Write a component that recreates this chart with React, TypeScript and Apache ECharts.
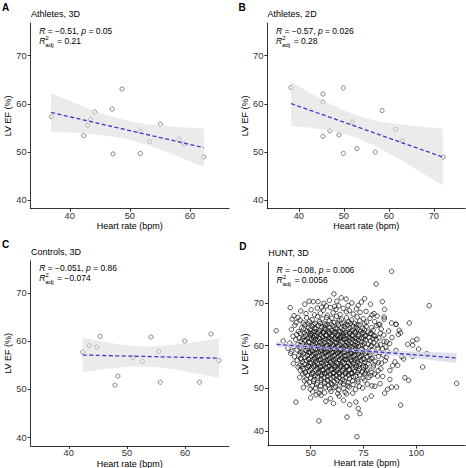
import React, { useEffect, useRef } from "react";
import * as echarts from "echarts";

// ---------- Panel A: Athletes, 3D ----------
const aHR = [36.97, 42.31, 42.98, 43.47, 44.13, 47.05, 47.2, 48.7, 51.74, 55.1, 53.3, 51.74, 58.2, 59.0, 62.3];
const aEF = [57.34, 53.4, 55.54, 56.8, 58.3, 58.9, 49.6, 63.07, 54.3, 55.75, 52.15, 49.7, 52.6, 51.7, 49.0];
const aBandX = [36.9, 40, 43, 46, 49.6, 53, 56, 59, 62.3];
const aFit = [58.2, 57.31, 56.45, 55.59, 54.56, 53.58, 52.72, 51.86, 50.91];
const aUpper = [62.2, 60.58, 59.09, 57.74, 56.47, 55.71, 55.32, 55.09, 54.91];
const aLower = [54.2, 54.04, 53.81, 53.44, 52.65, 51.45, 50.12, 48.63, 46.91];

// ---------- Panel B: Athletes, 2D ----------
const bHR = [38.28, 45.36, 45.36, 49.9, 51.9, 46.9, 45.36, 48.93, 49.9, 52.9, 58.5, 61.5, 63.0, 57.0, 72.05];
const bEF = [63.36, 62.03, 60.37, 63.3, 56.2, 54.4, 53.26, 53.53, 49.73, 50.7, 58.6, 54.7, 52.3, 50.0, 48.96];
const bBandX = [38.3, 42, 46, 50, 52.5, 56, 60, 64, 68, 72];
const bFit = [60.04, 58.82, 57.51, 56.19, 55.37, 54.22, 52.9, 51.58, 50.27, 48.95];
const bUpper = [64.63, 62.56, 60.46, 58.62, 57.7, 56.75, 56.04, 55.56, 55.2, 54.89];
const bLower = [55.45, 55.08, 54.56, 53.76, 53.04, 51.69, 49.76, 47.6, 45.34, 43.01];

// ---------- Panel C: Controls, 3D ----------
const cHR = [42.41, 43.5, 44.83, 45.4, 48.45, 47.93, 51.03, 52.64, 54.14, 55.46, 55.74, 59.95, 62.47, 64.43, 65.8];
const cEF = [57.77, 59.1, 58.8, 61.04, 52.77, 50.9, 56.6, 55.83, 60.9, 57.9, 51.5, 60.06, 51.5, 61.52, 56.04];
const cBandX = [42.4, 45, 48, 51, 53, 55, 58, 61, 63.5, 65.8];
const cFit = [57.15, 57.08, 56.99, 56.91, 56.86, 56.8, 56.72, 56.63, 56.56, 56.5];
const cUpper = [60.75, 60.11, 59.48, 59.05, 58.93, 58.95, 59.22, 59.69, 60.16, 60.64];
const cLower = [53.55, 54.05, 54.5, 54.77, 54.79, 54.65, 54.22, 53.57, 52.96, 52.36];

// ---------- Panel D: HUNT, 3D ----------
const dBandX = [33.9, 45, 55, 62, 70, 80, 90, 100, 110, 119];
const dFit = [60.3, 59.89, 59.51, 59.25, 58.95, 58.58, 58.21, 57.83, 57.46, 57.13];
const dUpper = [60.9, 60.29, 59.75, 59.45, 59.21, 58.99, 58.81, 58.62, 58.45, 58.3];
const dLower = [59.7, 59.49, 59.27, 59.05, 58.69, 58.17, 57.61, 57.04, 56.47, 55.96];
const huntPoints: [number, number][] = [
  [61.0,72.1],[49.3,70.4],[51.2,70.3],[53.5,70.3],[56.3,69.9],[57.4,69.3],[63.3,69.3],[62.4,70.4],[72.5,69.4],[74.0,70.2],[47.2,69.7],[40.3,68.9],[66.8,70.9],[58.9,70.6],[64.5,71.2],[69.5,70.0],[75.5,71.0],[78.3,69.7],
  [88.3,77.4],[81.0,74.4],[106.1,69.35],[83.9,70.3],[85.0,68.5],[96.7,65.3],[119.1,51.2],[92.6,46.1],[103.0,55.0],[33.7,63.5],[37.0,61.1],
  [42.1,67.0],[44.0,66.6],[45.3,68.1],[47.8,67.5],[50.2,68.4],[51.8,67.2],[53.1,68.8],[54.6,67.6],[56.0,68.3],[57.9,67.1],[59.3,68.9],[60.6,67.7],[62.0,68.5],[63.9,67.3],[65.4,68.7],[66.9,67.9],[68.3,68.2],[70.1,67.4],[71.6,68.6],[73.4,67.8],[76.2,68.0],[79.0,67.2],[81.5,66.9],[84.8,66.7],[84.8,66.2],[55.2,69.0],[61.4,69.2],[67.7,69.4],
  [41.2,66.2],[43.1,65.4],[45.0,66.0],[46.5,65.3],[48.1,66.5],[49.4,65.7],[50.7,66.1],[52.0,65.2],[53.3,66.8],[54.1,65.6],[55.5,66.3],[56.7,65.1],[57.6,66.6],[58.8,65.8],[60.0,66.4],[61.1,65.4],[62.3,66.9],[63.5,65.9],[64.6,66.2],[65.8,65.3],[67.0,66.5],[68.1,65.6],[69.4,66.0],[70.7,65.2],[72.0,66.7],[73.2,65.8],[74.9,66.3],[76.5,65.5],[78.1,66.4],[80.3,65.6],[82.7,65.0],[88.3,65.3],[90.4,65.0],[80.0,67.5],
  [48.8,65.1],[51.3,64.9],[54.5,65.2],[57.0,64.8],[59.8,65.0],[62.8,65.3],[66.3,64.9],[69.0,65.2],[71.9,64.9],[75.5,65.1],
  [42.5,64.8],[45.8,64.2],[47.3,64.9],[49.0,64.3],[50.6,64.6],[51.9,64.0],[53.7,64.7],[55.0,64.4],[56.4,64.1],[57.8,64.9],[59.1,64.3],[60.5,64.6],[61.8,64.0],[63.2,64.8],[64.4,64.2],[65.9,64.5],[67.3,64.9],[68.6,64.1],[70.0,64.6],[71.5,64.3],[72.9,64.8],[74.6,64.0],[76.3,64.5],[78.8,64.2],[81.2,64.7],[86.9,63.4],[82.2,64.9],
  [40.9,63.8],[44.2,63.3],[46.6,63.9],[48.2,63.4],[49.7,63.7],[51.1,63.2],[52.5,63.9],[54.2,63.5],[55.6,63.1],[57.0,63.8],[58.3,63.4],[59.7,63.6],[61.0,63.2],[62.5,63.9],[63.8,63.3],[65.2,63.7],[66.6,63.1],[67.9,63.8],[69.3,63.5],[70.8,63.2],[72.2,63.9],[73.7,63.4],[75.4,63.7],[77.2,63.2],[79.6,63.6],[83.4,63.9],[91.9,63.6],[91.5,62.6],[90.4,65.0],
  [47.0,63.0],[50.1,62.9],[52.0,63.3],[53.9,63.1],[56.6,63.4],[59.0,63.1],[61.9,63.3],[64.9,63.0],[68.3,63.2],[71.7,63.4],[74.9,63.1],[78.6,62.9],
  [43.4,62.6],[45.0,62.9],[47.6,62.5],[49.1,63.0],[50.5,62.7],[51.8,62.4],[53.3,62.9],[54.7,62.6],[56.1,63.0],[57.5,62.4],[58.9,62.8],[60.2,62.5],[61.6,62.9],[63.0,62.6],[64.3,62.3],[65.7,62.9],[67.1,62.5],[68.5,62.8],[69.9,62.4],[71.3,63.0],[72.8,62.6],[74.3,62.9],[76.0,62.4],[78.1,62.8],[80.5,62.3],[84.6,62.5],[92.6,63.0],[83.0,62.9],[86.0,60.9],
  [41.6,62.2],[44.6,61.8],[46.9,62.1],[48.5,61.7],[49.9,62.3],[51.4,61.9],[52.8,62.2],[54.3,61.6],[55.7,62.0],[57.1,62.3],[58.5,61.8],[59.9,62.1],[61.3,61.7],[62.7,62.2],[64.1,61.9],[65.4,62.3],[66.8,61.6],[68.2,62.0],[69.6,62.3],[71.0,61.8],[72.5,62.1],[74.0,61.7],[75.7,62.2],[77.6,61.9],[79.9,62.3],[82.3,61.8],[88.5,61.9],[98.3,61.1],
  [46.1,61.6],[49.6,61.7],[52.1,61.5],[54.0,61.8],[56.6,61.6],[59.2,61.7],[61.9,61.5],[63.6,61.8],[66.2,61.5],[69.0,61.7],[71.8,61.6],[75.1,61.8],[79.5,61.6],
  [42.9,61.4],[45.5,61.0],[47.3,61.3],[48.9,60.9],[50.3,61.5],[51.6,61.1],[53.1,61.4],[54.5,60.9],[55.9,61.2],[57.3,61.5],[58.7,61.0],[60.1,61.3],[61.5,60.9],[62.9,61.4],[64.2,61.1],[65.6,61.5],[67.0,60.9],[68.4,61.2],[69.8,61.4],[71.2,61.0],[72.6,61.3],[74.2,60.9],[76.0,61.4],[78.3,61.1],[81.0,61.5],[84.7,61.0],[100.3,61.5],
  [40.1,60.6],[43.8,60.2],[46.2,60.5],[48.0,60.1],[49.5,60.7],[50.9,60.3],[52.3,60.6],[53.8,60.0],[55.2,60.4],[56.6,60.7],[58.0,60.2],[59.4,60.5],[60.8,60.1],[62.2,60.6],[63.6,60.3],[65.0,60.7],[66.4,60.0],[67.8,60.4],[69.2,60.6],[70.6,60.2],[72.0,60.5],[73.6,60.1],[75.3,60.6],[77.4,60.3],[79.8,60.7],[83.1,60.2],[87.4,60.5],[95.9,60.3],[98.3,60.1],[81.5,60.1],
  [45.0,60.0],[48.7,59.9],[51.6,60.1],[54.5,59.9],[57.4,60.0],[60.3,60.1],[63.0,59.9],[65.9,60.1],[68.6,59.9],[71.4,60.0],[74.7,60.1],[78.9,60.0],
  [39.2,59.4],[42.0,59.8],[44.9,59.5],[47.0,59.9],[48.6,59.3],[50.1,59.7],[51.5,59.4],[52.9,59.8],[54.4,59.2],[55.8,59.6],[57.2,59.9],[58.6,59.3],[60.0,59.7],[61.4,59.4],[62.8,59.8],[64.1,59.2],[65.5,59.6],[66.9,59.9],[68.3,59.3],[69.7,59.7],[71.1,59.4],[72.6,59.8],[74.3,59.2],[76.1,59.6],[78.5,59.9],[81.8,59.4],[85.6,59.7],[90.4,58.9],[101.1,59.2],[84.0,59.3],
  [41.0,58.6],[43.5,59.0],[46.0,58.5],[47.8,58.9],[49.3,58.4],[50.7,58.8],[52.2,59.1],[53.6,58.5],[55.0,58.9],[56.4,58.3],[57.8,58.7],[59.2,59.0],[60.6,58.4],[62.0,58.8],[63.4,58.5],[64.8,59.1],[66.2,58.6],[67.6,58.9],[69.0,58.3],[70.4,58.7],[71.9,59.0],[73.4,58.4],[75.1,58.8],[77.0,58.5],[79.3,58.9],[82.6,58.4],[86.3,58.7],
  [45.2,58.3],[48.9,58.5],[51.9,58.4],[54.7,58.6],[57.2,58.4],[60.0,58.5],[62.8,58.3],[65.8,58.5],[68.8,58.4],[71.6,58.6],[74.6,58.3],[77.8,58.5],
  [40.5,58.2],[44.4,57.8],[46.6,58.1],[48.3,57.7],[49.8,58.3],[51.2,57.9],[52.6,58.2],[54.1,57.6],[55.5,58.0],[56.9,58.3],[58.3,57.8],[59.7,58.1],[61.1,57.7],[62.5,58.2],[63.9,57.9],[65.3,58.3],[66.7,57.6],[68.1,58.0],[69.5,58.2],[70.9,57.8],[72.4,58.1],[74.0,57.7],[75.8,58.2],[78.0,57.9],[80.7,58.3],[84.4,57.8],[105.0,58.1],[98.3,57.5],[85.8,57.3],
  [42.3,57.4],[45.2,57.0],[47.4,57.3],[49.0,56.9],[50.4,57.5],[51.8,57.1],[53.2,57.4],[54.7,56.8],[56.1,57.2],[57.5,57.5],[58.9,57.0],[60.3,57.3],[61.7,56.9],[63.1,57.4],[64.5,57.1],[65.9,57.5],[67.3,56.8],[68.7,57.2],[70.1,57.4],[71.6,57.0],[73.1,57.3],[74.8,56.9],[76.7,57.4],[79.1,57.1],[82.1,57.5],[93.2,57.4],
  [45.6,56.8],[49.2,56.7],[52.1,56.9],[54.8,56.8],[57.7,56.6],[60.6,56.8],[63.5,56.7],[66.1,56.9],[69.0,56.8],[72.0,56.7],[75.3,56.8],[78.6,56.9],
  [43.6,56.6],[46.1,56.2],[48.0,56.5],[49.6,56.1],[51.0,56.7],[52.4,56.3],[53.9,56.6],[55.3,56.0],[56.7,56.4],[58.1,56.7],[59.5,56.2],[60.9,56.5],[62.3,56.1],[63.7,56.6],[65.1,56.3],[66.5,56.7],[67.9,56.0],[69.3,56.4],[70.8,56.6],[72.3,56.2],[73.9,56.5],[75.7,56.1],[77.9,56.6],[80.6,56.3],[85.3,56.5],[89.9,56.2],[94.0,56.9],[82.0,56.0],
  [41.8,55.8],[44.9,55.4],[47.2,55.7],[48.8,55.3],[50.2,55.9],[51.7,55.5],[53.1,55.8],[54.6,55.2],[56.0,55.6],[57.4,55.9],[58.8,55.4],[60.2,55.7],[61.6,55.3],[63.0,55.8],[64.4,55.5],[65.8,55.9],[67.2,55.2],[68.6,55.6],[70.1,55.8],[71.6,55.4],[73.2,55.7],[75.0,55.3],[77.1,55.8],[79.8,55.5],[83.5,55.9],[91.2,55.4],[88.8,55.3],
  [46.0,55.2],[49.3,55.1],[52.3,55.3],[55.4,55.2],[58.1,55.1],[61.0,55.3],[63.9,55.2],[66.7,55.1],[69.5,55.3],[72.6,55.2],[76.0,55.1],
  [44.0,55.0],[46.4,54.6],[48.4,54.9],[50.0,54.5],[51.5,55.1],[53.0,54.7],[54.5,55.0],[55.9,54.4],[57.3,54.8],[58.7,55.1],[60.1,54.6],[61.5,54.9],[62.9,54.5],[64.3,55.0],[65.7,54.7],[67.1,55.1],[68.5,54.4],[70.0,54.8],[71.5,55.0],[73.1,54.6],[74.9,54.9],[77.0,54.5],[79.6,55.0],[87.5,54.2],[83.2,54.6],
  [45.1,54.2],[47.5,53.8],[49.3,54.1],[50.9,53.7],[52.4,54.3],[53.9,53.9],[55.4,54.2],[56.8,53.6],[58.2,54.0],[59.6,54.3],[61.0,53.8],[62.4,54.1],[63.8,53.7],[65.2,54.2],[66.6,53.9],[68.0,54.3],[69.5,53.6],[71.0,54.0],[72.6,54.2],[74.4,53.8],[76.5,54.1],[79.0,53.7],[82.0,54.2],
  [47.4,53.6],[51.2,53.5],[54.6,53.7],[57.6,53.6],[60.6,53.5],[63.3,53.7],[66.2,53.6],[69.0,53.5],[72.2,53.7],[76.0,53.6],
  [46.3,53.4],[48.6,53.0],[50.4,53.3],[52.0,52.9],[53.6,53.5],[55.1,53.1],[56.6,53.4],[58.0,52.8],[59.4,53.2],[60.8,53.5],[62.2,53.0],[63.6,53.3],[65.0,52.9],[66.5,53.4],[68.0,53.1],[69.6,53.5],[71.3,52.8],[73.2,53.2],[75.5,53.4],[78.4,53.0],[84.1,52.8],[81.7,52.9],[80.2,53.4],
  [44.8,52.6],[47.9,52.2],[49.9,52.5],[51.6,52.1],[53.3,52.7],[54.9,52.3],[56.4,52.6],[57.9,52.0],[59.3,52.4],[60.7,52.7],[62.1,52.2],[63.6,52.5],[65.1,52.1],[66.7,52.6],[68.4,52.3],[70.2,52.7],[72.3,52.0],[74.8,52.4],[77.6,52.6],[87.5,52.1],[94.6,52.5],
  [47.0,51.8],[49.5,51.4],[51.4,51.7],[53.2,51.3],[54.9,51.9],[56.5,51.5],[58.1,51.8],[59.6,51.2],[61.1,51.6],[62.6,51.9],[64.2,51.4],[65.9,51.7],[67.7,51.3],[69.8,51.8],[72.4,51.5],[75.6,51.9],[82.9,51.1],[96.4,51.9],
  [48.2,51.0],[50.8,50.6],[52.8,50.9],[54.7,50.5],[56.6,51.1],[58.4,50.7],[60.1,51.0],[61.8,50.4],[63.6,50.8],[65.5,51.1],[67.6,50.6],[70.1,50.9],[73.1,50.5],[76.8,51.0],[80.4,50.5],[79.0,50.6],
  [46.5,50.2],[49.8,49.8],[52.3,50.1],[54.6,49.7],[56.9,50.3],[59.0,49.9],[61.1,50.2],[63.3,49.6],[65.6,50.0],[68.2,50.3],[71.2,49.8],[74.6,50.1],[86.4,49.8],[88.3,50.3],[90.7,50.3],
  [50.9,49.2],[54.0,48.9],[56.6,49.0],[59.6,49.3],[62.8,48.8],[66.3,49.1],[69.9,48.9],[85.0,48.9],
  [50.0,47.8],[54.9,48.4],[59.3,47.6],[67.0,48.7],[63.5,48.2],[78.7,48.2],[52.6,48.5],
  [43.0,46.8],[71.4,46.8],[72.5,45.3],[73.3,44.1],[67.2,43.3],[53.9,42.4],[71.9,38.7],[60.8,46.5],[57.2,47.0],[65.5,47.2],[76.0,47.5],[68.5,46.2]
];

const annotations = [
  { r: "−0.51", p: "0.05", r2: "0.21" },
  { r: "−0.57", p: "0.026", r2: "0.28" },
  { r: "−0.051", p: "0.86", r2: "−0.074" },
  { r: "−0.08", p: "0.006", r2: "0.0056" },
];
const letters = ["A", "B", "C", "D"];
const titles = ["Athletes, 3D", "Athletes, 2D", "Controls, 3D", "HUNT, 3D"];
const xTicksABC = [40, 50, 60];
const xTicksB = [40, 50, 60, 70];
const xTicksD = [50, 75, 100];
const yTicks = [40, 50, 60, 70];

const FONT = "'Liberation Sans', Arial, Helvetica, sans-serif";

const panels = [
  {
    pts: aHR.map((x, i) => [x, aEF[i]]), bandX: aBandX, fit: aFit, upper: aUpper, lower: aLower,
    xMin: 33.5, xMax: 66.5, xTicks: xTicksABC, yMin: 38.25, yMax: 76.75,
    grid: { left: 30.7, top: 23, width: 198.3, height: 185.7 },
    ptColor: "#444", band: "rgba(222,222,222,0.6)", sym: 4.2, bw: 0.8, nameGapY: 14.5, nameGapX: 13,
  },
  {
    pts: bHR.map((x, i) => [x, bEF[i]]), bandX: bBandX, fit: bFit, upper: bUpper, lower: bLower,
    xMin: 33, xMax: 77, xTicks: xTicksB, yMin: 38.25, yMax: 76.75,
    grid: { left: 267.3, top: 23, width: 198, height: 185.7 },
    ptColor: "#444", band: "rgba(222,222,222,0.6)", sym: 4.2, bw: 0.8, nameGapY: 14.5, nameGapX: 13,
  },
  {
    pts: cHR.map((x, i) => [x, cEF[i]]), bandX: cBandX, fit: cFit, upper: cUpper, lower: cLower,
    xMin: 33.45, xMax: 67.55, xTicks: xTicksABC, yMin: 38.25, yMax: 76.75,
    grid: { left: 30.7, top: 260.7, width: 198.3, height: 185.3 },
    ptColor: "#444", band: "rgba(222,222,222,0.6)", sym: 4.2, bw: 0.8, nameGapY: 14.5, nameGapX: 13,
  },
  {
    pts: huntPoints, bandX: dBandX, fit: dFit, upper: dUpper, lower: dLower,
    xMin: 29.8, xMax: 123.2, xTicks: xTicksD, yMin: 36.6, yMax: 79.5,
    grid: { left: 268, top: 262.3, width: 197.3, height: 183.4 },
    ptColor: "#111", band: "rgba(214,214,232,0.75)", sym: 4.5, bw: 0.9, nameGapY: 16.5, nameGapX: 12,
  },
];

function buildOption() {
  const grids: any[] = [];
  const xAxes: any[] = [];
  const yAxes: any[] = [];
  const series: any[] = [];
  const graphics: any[] = [];

  panels.forEach((p, k) => {
    grids.push({ ...p.grid, containLabel: false, outerBoundsMode: "none" });
    const axisCommon = {
      type: "value",
      gridIndex: k,
      scale: false,
      splitLine: { show: false },
      axisLine: { show: true, onZero: false, lineStyle: { color: "#000", width: 0.8 } },
      nameLocation: "middle",
      nameTextStyle: { fontSize: 9, color: "#000", fontFamily: FONT },
    };
    xAxes.push({
      ...axisCommon,
      min: p.xMin, max: p.xMax,
      name: "Heart rate (bpm)", nameGap: p.nameGapX,
      axisTick: { show: true, length: 3, lineStyle: { color: "#000", width: 0.8 }, customValues: p.xTicks },
      axisLabel: { customValues: p.xTicks, color: "#333", fontSize: 9.3, fontFamily: FONT, margin: 2.5 },
    });
    yAxes.push({
      ...axisCommon,
      min: p.yMin, max: p.yMax,
      name: "LV EF (%)", nameGap: p.nameGapY,
      axisTick: { show: true, length: 3, lineStyle: { color: "#000", width: 0.8 }, customValues: yTicks },
      axisLabel: { customValues: yTicks, color: "#333", fontSize: 9.3, fontFamily: FONT, margin: 4 },
    });

    series.push({
      type: "scatter", xAxisIndex: k, yAxisIndex: k, z: 2,
      symbol: "circle", symbolSize: p.sym,
      itemStyle: { color: "rgba(0,0,0,0)", borderColor: p.ptColor, borderWidth: p.bw },
      data: p.pts,
    });
    const bx = p.bandX, up = p.upper, lo = p.lower, fill = p.band;
    series.push({
      type: "custom", xAxisIndex: k, yAxisIndex: k, z: 3, silent: true,
      data: [[bx[0], p.fit[0]]],
      renderItem: (_params: any, api: any) => {
        const pts: number[][] = [];
        for (let i = 0; i < bx.length; i++) pts.push(api.coord([bx[i], up[i]]));
        for (let i = bx.length - 1; i >= 0; i--) pts.push(api.coord([bx[i], lo[i]]));
        return { type: "polygon", shape: { points: pts }, style: { fill } };
      },
    });
    series.push({
      type: "line", xAxisIndex: k, yAxisIndex: k, z: 4,
      showSymbol: false, symbol: "none",
      lineStyle: { color: "#3b3bcc", width: 1.3, type: [4, 2.5] },
      data: bx.map((x, i) => [x, p.fit[i]]),
    });

    const gl = p.grid.left, gt = p.grid.top;
    const ann = annotations[k];
    graphics.push(
      { type: "text", x: gl - 28.7, y: gt - 16, style: { text: letters[k], fontSize: 10, fontWeight: "bold", fontFamily: FONT, fill: "#000", verticalAlign: "middle", align: "left" } },
      { type: "text", x: gl + 0.3, y: gt - 9, style: { text: titles[k], fontSize: 9, fontFamily: FONT, fill: "#000", verticalAlign: "middle", align: "left" } },
      {
        type: "text", x: gl + 8.6, y: gt + 7.6,
        style: {
          text: `{i|R} = ${ann.r}, {i|p} = ${ann.p}`,
          fontSize: 8.5, fontFamily: FONT, fill: "#000", verticalAlign: "middle", align: "left",
          rich: { i: { fontStyle: "italic", fontSize: 8.5, fontFamily: FONT, fill: "#000" } },
        },
      },
      { type: "text", x: gl + 8.6, y: gt + 17.7, style: { text: "R", fontStyle: "italic", fontSize: 8.5, fontFamily: FONT, fill: "#000", verticalAlign: "middle", align: "left" } },
      { type: "text", x: gl + 14.9, y: gt + 14.6, style: { text: "2", fontSize: 5.8, fontFamily: FONT, fill: "#000", verticalAlign: "middle", align: "left" } },
      { type: "text", x: gl + 14.6, y: gt + 21.2, style: { text: "adj", fontSize: 6.2, fontFamily: FONT, fill: "#000", verticalAlign: "middle", align: "left" } },
      { type: "text", x: gl + 26.4, y: gt + 17.7, style: { text: `= ${ann.r2}`, fontSize: 8.5, fontFamily: FONT, fill: "#000", verticalAlign: "middle", align: "left" } },
    );
  });

  return {
    animation: false,
    backgroundColor: "#fff",
    grid: grids,
    xAxis: xAxes,
    yAxis: yAxes,
    series,
    graphic: graphics,
  };
}

export default function App() {
  const ref = useRef<HTMLDivElement>(null);
  useEffect(() => {
    document.body.style.margin = "0";
    const chart = echarts.init(ref.current as HTMLDivElement, null, { renderer: "svg" });
    chart.setOption(buildOption() as any);
    return () => chart.dispose();
  }, []);
  return <div ref={ref} style={{ width: 466, height: 468 }} />;
}
